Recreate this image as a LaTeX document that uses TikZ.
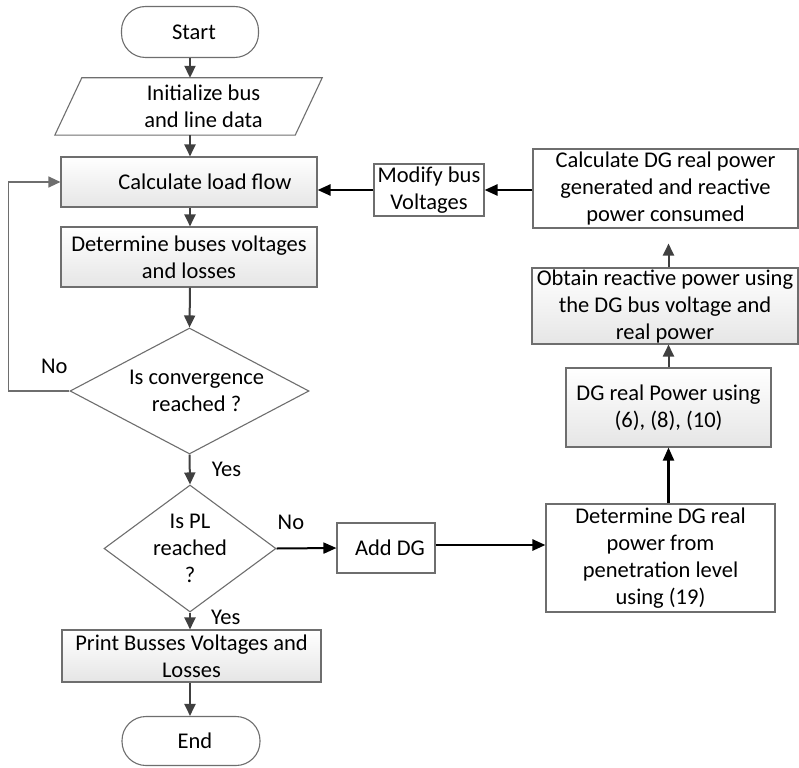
\documentclass[tikz,border=0pt]{standalone}
\usepackage{fontspec}
\setmainfont{Carlito}
\usetikzlibrary{shapes.geometric,arrows.meta}
\definecolor{boxline}{HTML}{6E6E6E}
\definecolor{arrowgray}{HTML}{404040}
\begin{document}
\begin{tikzpicture}[x=1pt,y=-1pt,
  every node/.style={font=\fontsize{22.5}{27}\selectfont, align=center, inner sep=0pt, text=black},
  box/.style={draw=boxline, line width=1.1pt},
  gbox/.style={box, top color=white, bottom color=gray!20},
  wbox/.style={box, fill=white},
  term/.style={draw=boxline, line width=1.1pt, rounded corners=24pt, fill=white},
  dia/.style={draw=boxline, line width=1.1pt, shape=diamond, fill=white},
  flow/.style={draw=arrowgray, line width=2pt, -{Triangle[length=12pt,width=11pt]}},
  thinflow/.style={draw=boxline, line width=1.2pt, -{Triangle[length=12pt,width=11pt]}},
  bflow/.style={draw=black, line width=2.5pt, -{Triangle[length=13pt,width=11pt]}}
]
\useasboundingbox (0,0) rectangle (799,767);

% left column
\node[term, minimum width=137pt, minimum height=51pt] (start) at (190,32) {\hspace*{8pt}Start};
\node[minimum width=240pt, minimum height=57pt] (init) at (188.5,106.5) {\hspace*{30pt}Initialize bus\\\hspace*{30pt}and line data};
\draw[box] ([xshift=-13.5pt]init.south west) -- ([xshift=13.5pt]init.north west)
  -- ([xshift=13.5pt]init.north east) -- ([xshift=-13.5pt]init.south east) -- cycle;
\node[gbox, minimum width=256pt, minimum height=50pt] (calc) at (189,182) {\hspace*{32pt}Calculate load flow};
\node[gbox, minimum width=256pt, minimum height=60pt] (det) at (189,257) {Determine buses voltages\\and losses};
\node[dia, minimum width=239pt, minimum height=126pt,
  label={[align=center, xshift=7pt]center:Is convergence\\reached ?}] (conv) at (189.5,391) {};
\node[dia, minimum width=172pt, minimum height=127pt,
  label={[align=center]center:Is PL\\reached\\?}] (pl) at (190,548.5) {};
\node[gbox, minimum width=259pt, minimum height=52pt] (print) at (191.5,656) {Print Busses Voltages and\\Losses};
\node[term, minimum width=138pt, minimum height=49pt] (end) at (191,741) {\hspace*{8pt}End};

% right side
\node[wbox, minimum width=98pt, minimum height=50pt] (adddg) at (386,548) {\hspace*{8pt}Add DG};
\node[wbox, minimum width=229pt, minimum height=108pt] (detdg) at (660.5,558) {Determine DG real\\power from\\penetration level\\using (19)};
\node[gbox, minimum width=205pt, minimum height=79pt] (dgreal) at (668.5,407.5) {DG real Power using\\(6), (8), (10)};
\node[gbox, minimum width=266pt, minimum height=76pt] (obtain) at (665,306) {Obtain reactive power using\\the DG bus voltage and\\real power};
\node[wbox, minimum width=265pt, minimum height=79pt] (calcdg) at (665.5,188.5) {Calculate DG real power\\generated and reactive\\power consumed};
\node[wbox, minimum width=110pt, minimum height=52pt] (modify) at (429,190) {Modify bus\\Voltages};

% connectors
\draw[flow] (start.south) -- (start.south |- init.north);
\draw[flow] (start.south |- init.south) -- (start.south |- calc.north);
\draw[flow] (start.south |- calc.south) -- (start.south |- det.north);
\draw[flow] (start.south |- det.south) -- (conv.north);
\draw[thinflow] (conv.west) -- node[pos=0.25, above=17pt]{No} ++(-61,0) |- (calc.west);
\draw[flow] (conv.south) -- node[midway, right=21pt]{Yes} (pl.north);
\draw[flow] (pl.south) -- node[pos=0.3, right=20pt]{Yes} (pl.south |- print.north);
\draw[flow] (pl.south |- print.south) -- (pl.south |- end.north);
\draw[bflow, line width=2pt] (pl.east) -- node[pos=0.24, above=18pt]{No} (adddg.west);
\draw[bflow] ([yshift=3pt]adddg.east) -- ([yshift=3pt]adddg.east -| detdg.west);
\draw[bflow, line width=2.2pt] (dgreal.south |- detdg.north) -- (dgreal.south);
\draw[flow] (dgreal.north) -- (dgreal.north |- obtain.south);
\draw[flow, shorten >=15pt] (dgreal.north |- obtain.north) -- (dgreal.north |- calcdg.south);
\draw[bflow] (calcdg.west |- modify.east) -- (modify.east);
\draw[bflow] (modify.west) -- (modify.west -| calc.east);
\end{tikzpicture}
\end{document}
